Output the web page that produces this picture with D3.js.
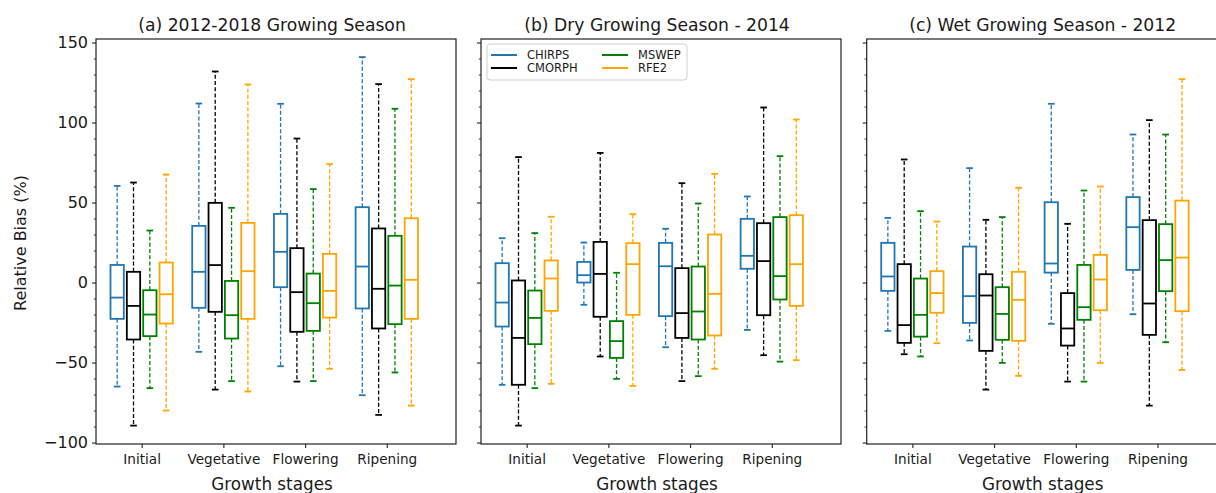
<!DOCTYPE html>
<html>
<head>
<meta charset="utf-8">
<script src="https://cdn.jsdelivr.net/npm/d3@7"></script>
<style>
  body { margin: 0; background: white; }
  text { font-family: "DejaVu Sans", sans-serif; fill: #1a1a1a; }
</style>
</head>
<body>
<svg id="chart" width="1216" height="493"></svg>
<script>
const chart = d3.select("#chart");

const stages = ["Initial", "Vegetative", "Flowering", "Ripening"];
const products = ["CHIRPS", "CMORPH", "MSWEP", "RFE2"];
const colors = ["#1f77b4", "#000000", "#008000", "#ffa500"];
const titles = ["(a) 2012-2018 Growing Season",
                "(b) Dry Growing Season - 2014",
                "(c) Wet Growing Season - 2012"];

// per stage, per product: [whisker low, q1, median, q3, whisker high]
const statsAll = [
  [[-65, -22.7, -9.4, 11, 60.4], [-89.4, -35.6, -14.6, 6.7, 62.5], [-66, -33.5, -20, -4.8, 32.5], [-80, -25.6, -7.3, 12.5, 67.5]],
  [[-43.3, -15.8, 6.7, 35.4, 111.9], [-66.9, -18.3, 10.9, 49.8, 131.9], [-61.6, -35, -20.4, 1, 46.7], [-68.1, -22.7, 7.1, 37.3, 123.8]],
  [[-52.3, -2.9, 19.2, 42.9, 111.7], [-61.9, -30.8, -6, 21.5, 90], [-61.6, -30.2, -12.9, 5.6, 58.4], [-53.9, -21.9, -5.2, 17.9, 74]],
  [[-70.4, -16.2, 10, 47.1, 140.9], [-82.7, -28.7, -3.9, 33.8, 124], [-56.2, -26, -1.9, 29.2, 108.6], [-76.9, -22.7, 1.7, 40.2, 127.1]]
];
const statsDry = [
  [[-63.9, -27.5, -12.5, 12.1, 27.7], [-89.4, -63.9, -34.6, 1.3, 78.4], [-66, -38.5, -22.1, -5, 30.9], [-63.3, -17.7, 2.5, 13.8, 41.1]],
  [[-13.9, 0, 4.6, 12.9, 25], [-46.2, -21.4, 5.4, 25.4, 81], [-60.2, -47.1, -36.6, -24.1, 6.1], [-64.6, -20.2, 11.5, 24.6, 42.7]],
  [[-40.4, -21, 10.2, 24.8, 33.6], [-61.6, -34.6, -19.1, 9, 62.1], [-58.5, -35.6, -18.1, 10, 49.4], [-53.9, -33.1, -7.1, 30, 67.9]],
  [[-29.6, 8.6, 16.7, 39.8, 53.8], [-45.4, -20.4, 13.4, 37.1, 109.4], [-49.4, -10.6, 4, 40.9, 79], [-48.5, -14.6, 11.5, 42.1, 101.9]]
];
const statsWet = [
  [[-30.2, -5.2, 3.8, 24.8, 40.4], [-44.8, -37.7, -26.6, 11.5, 76.9], [-46.2, -33.8, -20.2, 2.5, 44.6], [-37.9, -18.9, -6.6, 7.1, 38.1]],
  [[-36.2, -25.2, -8.5, 22.5, 71.5], [-66.9, -42.7, -8.1, 5.2, 39.2], [-50.2, -35.8, -19.6, -2.9, 40.9], [-58.3, -36.4, -10.8, 6.7, 59.2]],
  [[-25.8, 6.2, 11.9, 50.2, 111.7], [-61.9, -39.4, -28.7, -6.6, 36.7], [-61.9, -23.3, -15.4, 11, 57.5], [-50.2, -17.3, 1.9, 17.3, 60]],
  [[-19.8, 7.9, 34.6, 53.4, 92.5], [-76.9, -32.7, -13.1, 39, 101.5], [-37.3, -5.4, 14, 36.5, 92.5], [-54.6, -17.9, 15.6, 51.2, 127.1]]
];
const panelStats = [statsAll, statsDry, statsWet];

const yTicks = [-100, -50, 0, 50, 100, 150];
const offsets = [-0.3, -0.1, 0.1, 0.3];
const BOX_W = 0.163;

const PANEL_W = 360;
const panelLeft = [96, 481, 866.7];
const TOP = 39, BOTTOM = 444;

const y = d3.scaleLinear().domain([-100.9, 152.2]).range([BOTTOM, TOP]);
const x = d3.scaleLinear().domain([-0.559, 3.847]).range([0, PANEL_W]);

panelStats.forEach((stats, p) => {
    const g = chart.append("g").attr("transform", `translate(${panelLeft[p]},0)`);

    // boxes
    stats.forEach((stage, si) => {
        stage.forEach((s, k) => {
            const cx = x(si + offsets[k]);
            const half = (x(BOX_W) - x(0)) / 2;
            const col = colors[k];
            const bg = g.append("g");
            // whiskers
            bg.append("line")
              .attr("x1", cx).attr("x2", cx)
              .attr("y1", y(s[3])).attr("y2", y(s[4]))
              .attr("stroke", col).attr("stroke-width", 1.3)
              .attr("stroke-dasharray", "4,2.2");
            bg.append("line")
              .attr("x1", cx).attr("x2", cx)
              .attr("y1", y(s[1])).attr("y2", y(s[0]))
              .attr("stroke", col).attr("stroke-width", 1.3)
              .attr("stroke-dasharray", "4,2.2");
            // caps
            [s[0], s[4]].forEach(v => {
                bg.append("line")
                  .attr("x1", cx - half / 2).attr("x2", cx + half / 2)
                  .attr("y1", y(v)).attr("y2", y(v))
                  .attr("stroke", col).attr("stroke-width", 1.8);
            });
            bg.append("rect")
              .attr("x", cx - half).attr("width", half * 2)
              .attr("y", y(s[3])).attr("height", y(s[1]) - y(s[3]))
              .attr("fill", "none").attr("stroke", col).attr("stroke-width", 1.8);
            bg.append("line")
              .attr("x1", cx - half).attr("x2", cx + half)
              .attr("y1", y(s[2])).attr("y2", y(s[2]))
              .attr("stroke", col).attr("stroke-width", 1.8);
        });
    });

    // y axis
    const yAxis = d3.axisLeft(y).tickValues(yTicks).tickSize(4).tickPadding(4)
                    .tickFormat(p === 0 ? (d => d < 0 ? "\u2212" + Math.abs(d) : d) : "");
    const ya = g.append("g").call(yAxis);
    ya.select(".domain").remove();
    ya.selectAll("text").style("font-size", "16px").attr("fill", "#1a1a1a");
    ya.selectAll("line").attr("stroke", "#222").attr("stroke-width", 1.1);

    const yMinor = d3.range(-100, 151, 10).filter(v => v % 50 !== 0);
    const ym = g.append("g").call(d3.axisLeft(y).tickValues(yMinor).tickSize(2.2).tickFormat(""));
    ym.select(".domain").remove();
    ym.selectAll("line").attr("stroke", "#222").attr("stroke-width", 0.9);

    // x axis
    const xAxis = d3.axisBottom(x).tickValues([0, 1, 2, 3]).tickSize(4).tickPadding(6)
                    .tickFormat(i => stages[i]);
    const xa = g.append("g").attr("transform", `translate(0,${BOTTOM})`).call(xAxis);
    xa.select(".domain").remove();
    xa.selectAll("text").style("font-size", "13.6px").attr("fill", "#1a1a1a");
    xa.selectAll("line").attr("stroke", "#222").attr("stroke-width", 1.1);

    // frame
    g.append("rect")
     .attr("x", 0).attr("y", TOP)
     .attr("width", PANEL_W).attr("height", BOTTOM - TOP)
     .attr("fill", "none").attr("stroke", "#222").attr("stroke-width", 1.2);

    g.append("text")
     .attr("x", PANEL_W / 2 - 4).attr("y", 30.5)
     .attr("text-anchor", "middle")
     .style("font-size", "17.2px")
     .text(titles[p]);

    g.append("text")
     .attr("x", PANEL_W / 2 - 4).attr("y", 489.8)
     .attr("text-anchor", "middle")
     .style("font-size", "16.8px")
     .text("Growth stages");
});

chart.append("text")
     .attr("transform", "translate(26,243) rotate(-90)")
     .attr("text-anchor", "middle")
     .style("font-size", "16px")
     .text("Relative Bias (%)");

// legend in panel (b)
const legend = chart.append("g").attr("transform", "translate(487,44)");
legend.append("rect")
      .attr("width", 200).attr("height", 36).attr("rx", 3)
      .attr("fill", "white").attr("fill-opacity", 0.8)
      .attr("stroke", "#d0d0d0").attr("stroke-width", 1);
products.forEach((name, i) => {
    const col = Math.floor(i / 2), row = i % 2;
    const lx = 4 + col * 111, ly = 11 + row * 13;
    legend.append("line")
          .attr("x1", lx).attr("x2", lx + 26)
          .attr("y1", ly).attr("y2", ly)
          .attr("stroke", colors[i]).attr("stroke-width", 2);
    legend.append("text")
          .attr("x", lx + 36).attr("y", ly + 4)
          .style("font-size", "11.5px")
          .text(name);
});
</script>
</body>
</html>
